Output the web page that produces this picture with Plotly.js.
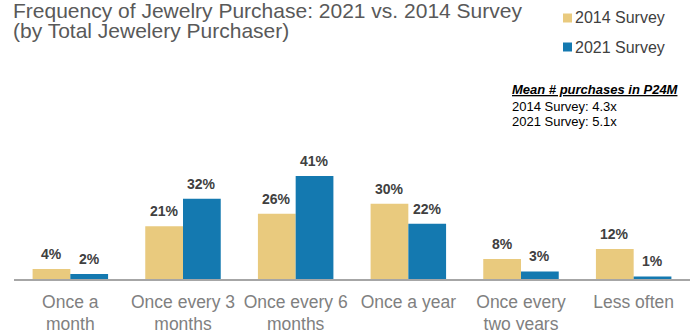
<!DOCTYPE html>
<html>
<head>
<meta charset="utf-8">
<script src="https://cdn.plot.ly/plotly-3.0.1.min.js"></script>
<style>html,body{margin:0;padding:0;background:#fff;}#chart{width:699px;height:330px;}</style>
</head>
<body>
<div id="chart"></div>
<script>
const categories = ["Once a<br>month", "Once every 3<br>months", "Once every 6<br>months", "Once a year", "Once every<br>two years", "Less often"];
const seriesNames = ["2014 Survey", "2021 Survey"];
const values2014 = [4, 21, 26, 30, 8, 12];
const values2021 = [2, 32, 41, 22, 3, 1];
const seriesColors = ["#E9CA7E", "#1479B0"];
const titleLines = ["Frequency of Jewelry Purchase: 2021 vs. 2014 Survey", "(by Total Jewelery Purchaser)"];
const noteHeader = "Mean # purchases in P24M";
const noteLines = ["2014 Survey: 4.3x", "2021 Survey: 5.1x"];

const FONT = "Liberation Sans, Arial, Helvetica, sans-serif";
const W = 699, H = 330;
const M = {l: 14, r: 9, t: 100, b: 51};
const PL = M.l, PR = W - M.r, PT = M.t, PB = H - M.b;
const px = x => (x - PL) / (PR - PL);
const py = y => (PB - y) / (PB - PT);

const allSeries = [values2014, values2021];
const traces = allSeries.map((vals, i) => ({
  type: "bar",
  name: seriesNames[i],
  x: categories,
  y: vals,
  marker: {color: seriesColors[i]},
  hoverinfo: "skip"
}));

const annotations = [];
// data labels
allSeries.forEach((vals, s) => {
  vals.forEach((v, i) => {
    annotations.push({
      xref: "x", yref: "y",
      x: i + (s === 0 ? -1 / 6 : 1 / 6), y: v,
      text: "<b>" + v + "%</b>",
      showarrow: false, yanchor: "middle", yshift: 15,
      font: {family: FONT, size: 14, color: "#404040"}
    });
  });
});
// title lines
const titleY = [10, 31];
titleLines.forEach((t, i) => annotations.push({
  xref: "paper", yref: "paper", x: px(11), y: py(titleY[i]),
  xanchor: "left", yanchor: "middle", showarrow: false, text: t,
  font: {family: FONT, size: 21, color: "#595959"}
}));
// legend texts
const legY = [18, 47];
const shapes = [];
seriesNames.forEach((n, i) => {
  annotations.push({
    xref: "paper", yref: "paper", x: px(573), y: py(legY[i]),
    xanchor: "left", yanchor: "middle", showarrow: false, text: n,
    font: {family: FONT, size: 16, color: "#404040"}
  });
  shapes.push({
    type: "rect", xref: "paper", yref: "paper",
    x0: px(563), x1: px(572), y0: py(legY[i] - 4.5), y1: py(legY[i] + 4.5),
    fillcolor: seriesColors[i], line: {width: 0}
  });
});
// note block
annotations.push({
  xref: "paper", yref: "paper", x: px(510), y: py(90),
  xanchor: "left", yanchor: "middle", showarrow: false,
  text: "<b><i><u>" + noteHeader + "</u></i></b>",
  font: {family: FONT, size: 13, color: "#000000"}
});
const noteY = [106.5, 121.5];
noteLines.forEach((t, i) => annotations.push({
  xref: "paper", yref: "paper", x: px(510), y: py(noteY[i]),
  xanchor: "left", yanchor: "middle", showarrow: false, text: t,
  font: {family: FONT, size: 13, color: "#000000"}
}));

const layout = {
  width: W, height: H,
  margin: M,
  paper_bgcolor: "#ffffff", plot_bgcolor: "#ffffff",
  showlegend: false,
  barmode: "group", bargap: 0.33, bargroupgap: 0,
  xaxis: {
    type: "category",
    showline: true, linecolor: "#A6A6A6", linewidth: 1.5,
    showgrid: false, zeroline: false, ticks: "", tickangle: 0,
    ticklabelstandoff: 6,
    tickfont: {family: FONT, size: 17.5, color: "#808080"},
    fixedrange: true
  },
  yaxis: {
    range: [0, (PB - PT) / 2.51],
    visible: false, showgrid: false, zeroline: false, fixedrange: true
  },
  annotations: annotations,
  shapes: shapes,
  font: {family: FONT}
};

Plotly.newPlot("chart", traces, layout, {displayModeBar: false, staticPlot: true});
</script>
</body>
</html>
